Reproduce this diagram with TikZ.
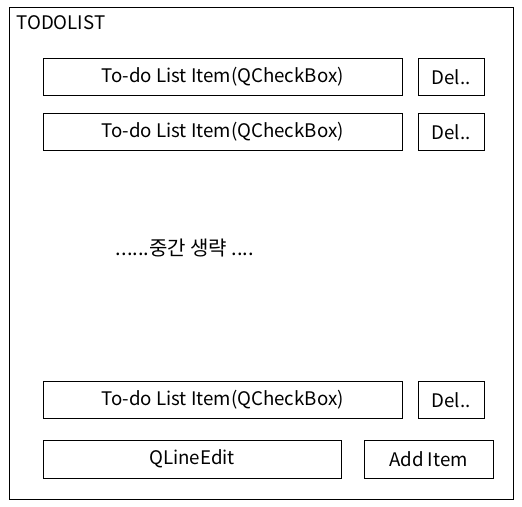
\documentclass[tikz,border=0pt]{standalone}
\usepackage{fontspec}
\setmainfont{Noto Sans CJK KR}
\begin{document}
\begin{tikzpicture}
[x=1pt,y=-1pt,
every node/.style={shape=rectangle,draw,line width=0.9pt,inner sep=0pt,align=center,font=\fontsize{18.7}{22}\selectfont},
item/.style={minimum width=359pt,minimum height=37pt},
del/.style={minimum width=66pt,minimum height=37pt},
label/.style={draw=none}]
\useasboundingbox (0,0) rectangle (522,506);

\node[minimum width=504pt,minimum height=492pt] (frame) at (261,253) {};
\node[label,anchor=west] (title) at (16,23) {TODOLIST};

\node[item] (item1) at (222.5,76.5) {To-do List Item(QCheckBox)};
\node[del] (del1) at (451,77) {Del..};
\node[item] (item2) at (222.5,131.5) {To-do List Item(QCheckBox)};
\node[del] (del2) at (451,132) {Del..};

\node[label,font=\fontsize{20}{24}\selectfont] (skip) at (185,248) {......중간 생략 ....};

\node[item] (item3) at (222.5,399.5) {To-do List Item(QCheckBox)};
\node[del] (del3) at (451,400) {Del..};

\node[minimum width=298pt,minimum height=38pt] (edit) at (192,459) {QLineEdit};
\node[minimum width=129pt,minimum height=38pt] (add) at (428.5,459) {Add Item};
\end{tikzpicture}
\end{document}
